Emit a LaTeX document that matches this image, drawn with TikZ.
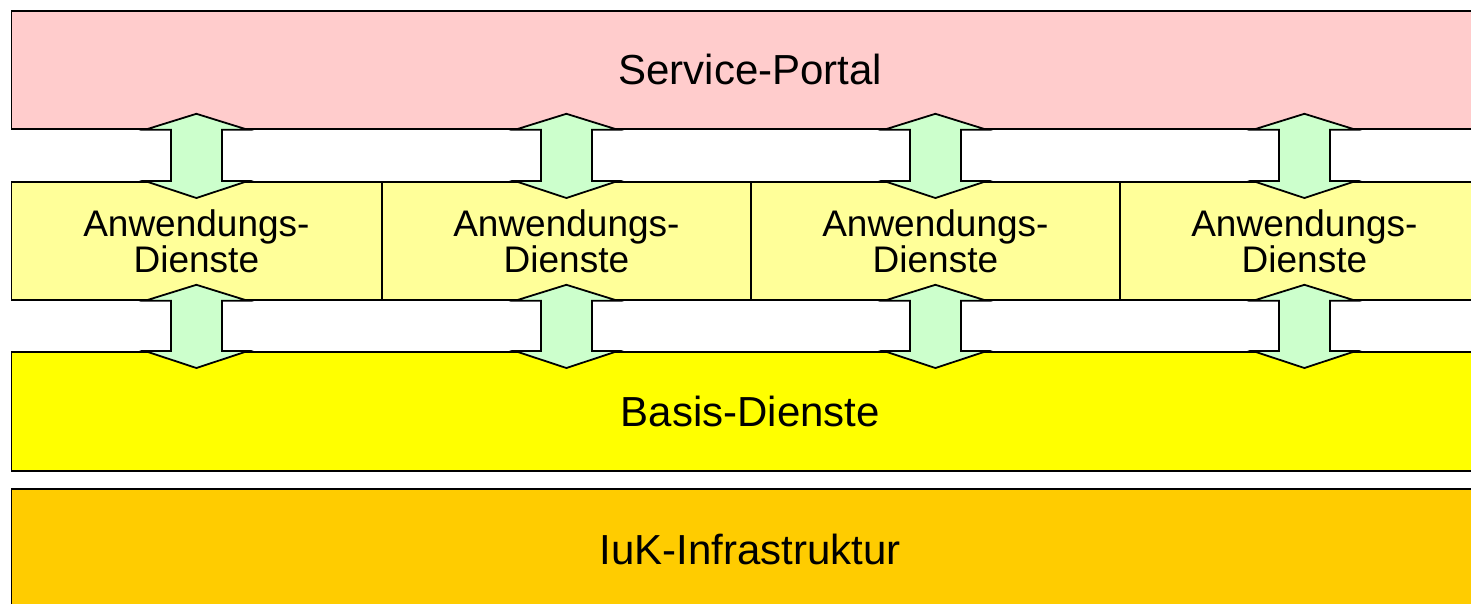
\documentclass[tikz,border=0pt]{standalone}
\usepackage{fontspec}
\setmainfont{Liberation Sans}
\usetikzlibrary{calc}
\definecolor{portalfill}{HTML}{FFCCCC}
\definecolor{appfill}{HTML}{FFFF99}
\definecolor{basisfill}{HTML}{FFFF00}
\definecolor{infrafill}{HTML}{FFCC00}
\definecolor{linkfill}{HTML}{CCFFCC}
% double block arrow between an upper and a lower layer, centred on a column node
\newcommand\layerlink[3]{%
  \draw[link] let \p1=(#1.south), \p2=(#2.north), \p3=(#3.center) in
    (\x3,\y1+16pt) -- (\x3+51.5pt,\y1) -- (\x3+25.5pt,\y1) -- (\x3+25.5pt,\y2)
    -- (\x3+51.5pt,\y2) -- (\x3,\y2-17pt) -- (\x3-51.5pt,\y2) -- (\x3-25.5pt,\y2)
    -- (\x3-25.5pt,\y1) -- (\x3-51.5pt,\y1) -- cycle;}
\begin{document}
\begin{tikzpicture}[x=1pt,y=-1pt,
  box/.style={draw=black, line width=1.8pt, inner sep=0pt, anchor=north west},
  bigtext/.style={font=\fontsize{42}{48}\selectfont},
  apptext/.style={font=\fontsize{37}{36}\selectfont, align=center},
  link/.style={draw=black, fill=linkfill, line width=1.8pt, line join=miter}]
\useasboundingbox (0,0) rectangle (1471,603);
\clip (0,0) rectangle (1471,603);
% layers
\node[box, fill=portalfill, minimum width=1478pt, minimum height=118pt, bigtext]
  (portal) at (10.5,10) {Service-Portal};
\node[box, fill=appfill, minimum width=370pt, minimum height=118pt, apptext]
  (a1) at (10.5,181) {Anwendungs-\\Dienste};
\node[box, fill=appfill, minimum width=369pt, minimum height=118pt, apptext]
  (a2) at (381,181) {Anwendungs-\\Dienste};
\node[box, fill=appfill, minimum width=369pt, minimum height=118pt, apptext]
  (a3) at (750,181) {Anwendungs-\\Dienste};
\node[box, fill=appfill, minimum width=369pt, minimum height=118pt, apptext]
  (a4) at (1119,181) {Anwendungs-\\Dienste};
\node[box, fill=basisfill, minimum width=1478pt, minimum height=119pt, bigtext]
  (basis) at (10.5,351) {Basis-Dienste};
\node[box, fill=infrafill, minimum width=1478pt, minimum height=122pt, bigtext]
  (infra) at (10.5,488) {IuK-Infrastruktur};
% links between the layers
\foreach \i in {1,...,4} {
  \layerlink{portal}{a\i}{a\i}
  \layerlink{a\i}{basis}{a\i}
}
\end{tikzpicture}
\end{document}
